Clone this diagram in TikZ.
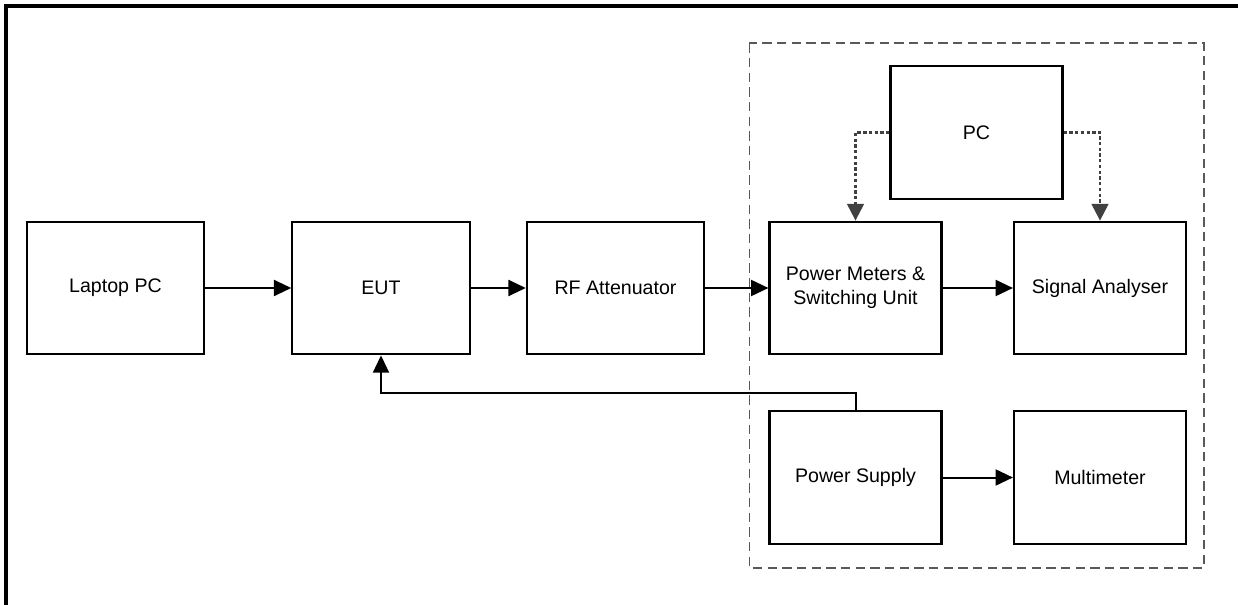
\documentclass[tikz,border=0pt]{standalone}
\usepackage{fontspec}
\setmainfont{Liberation Sans}
\usetikzlibrary{arrows.meta}

\tikzset{
  blk/.style={draw,line width=1.6pt,minimum width=133pt,minimum height=99.5pt,inner sep=0pt,align=center,font=\fontsize{14.7pt}{18pt}\selectfont},
  blkr/.style={blk,minimum width=129pt},
  arr/.style={->,line width=1.5pt},
  ctl/.style={->,line width=1.7pt,draw=black!75,dash pattern=on 2.5pt off 1.8pt,
    >={Triangle[length=12.5pt,width=12.5pt,fill=black!75]}},
  grp/.style={draw=black!65,line width=1.2pt,dash pattern=on 7pt off 4pt}
}

\begin{document}
\begin{tikzpicture}[x=0.75pt,y=-0.75pt,>={Triangle[length=13pt,width=12pt]}]
\useasboundingbox (0,0) rectangle (1238,605);
\draw[line width=3pt] (6,606)--(6,5.7)--(1239,5.7);
\draw[grp] (749.3,43.3) rectangle (1204,567.7);
\node[blk] (laptop) at (115.5,288) {Laptop PC};
\node[blk] (eut) at (381,288) {EUT};
\node[blk] (rfatt) at (615.5,288) {RF Attenuator};
\node[blkr] (pm) at (855.5,288) {Power Meters \&\\Switching Unit};
\node[blkr] (sa) at (1100,288) {Signal Analyser};
\node[blkr] (pc) at (976.5,132.5) {PC};
\node[blkr] (psu) at (855.5,477.5) {Power Supply};
\node[blkr] (mm) at (1100,477.5) {Multimeter};
\draw[arr] (laptop)--(eut);
\draw[arr] (eut)--(rfatt);
\draw[arr] (rfatt)--(pm);
\draw[arr] (pm)--(sa);
\draw[arr] (psu)--(mm);
\draw[arr] (psu.north)--++(0,-17)-|(eut.south);
\draw[ctl] (pc.west)-|(pm.north);
\draw[ctl] (pc.east)-|(sa.north);
\end{tikzpicture}
\end{document}
